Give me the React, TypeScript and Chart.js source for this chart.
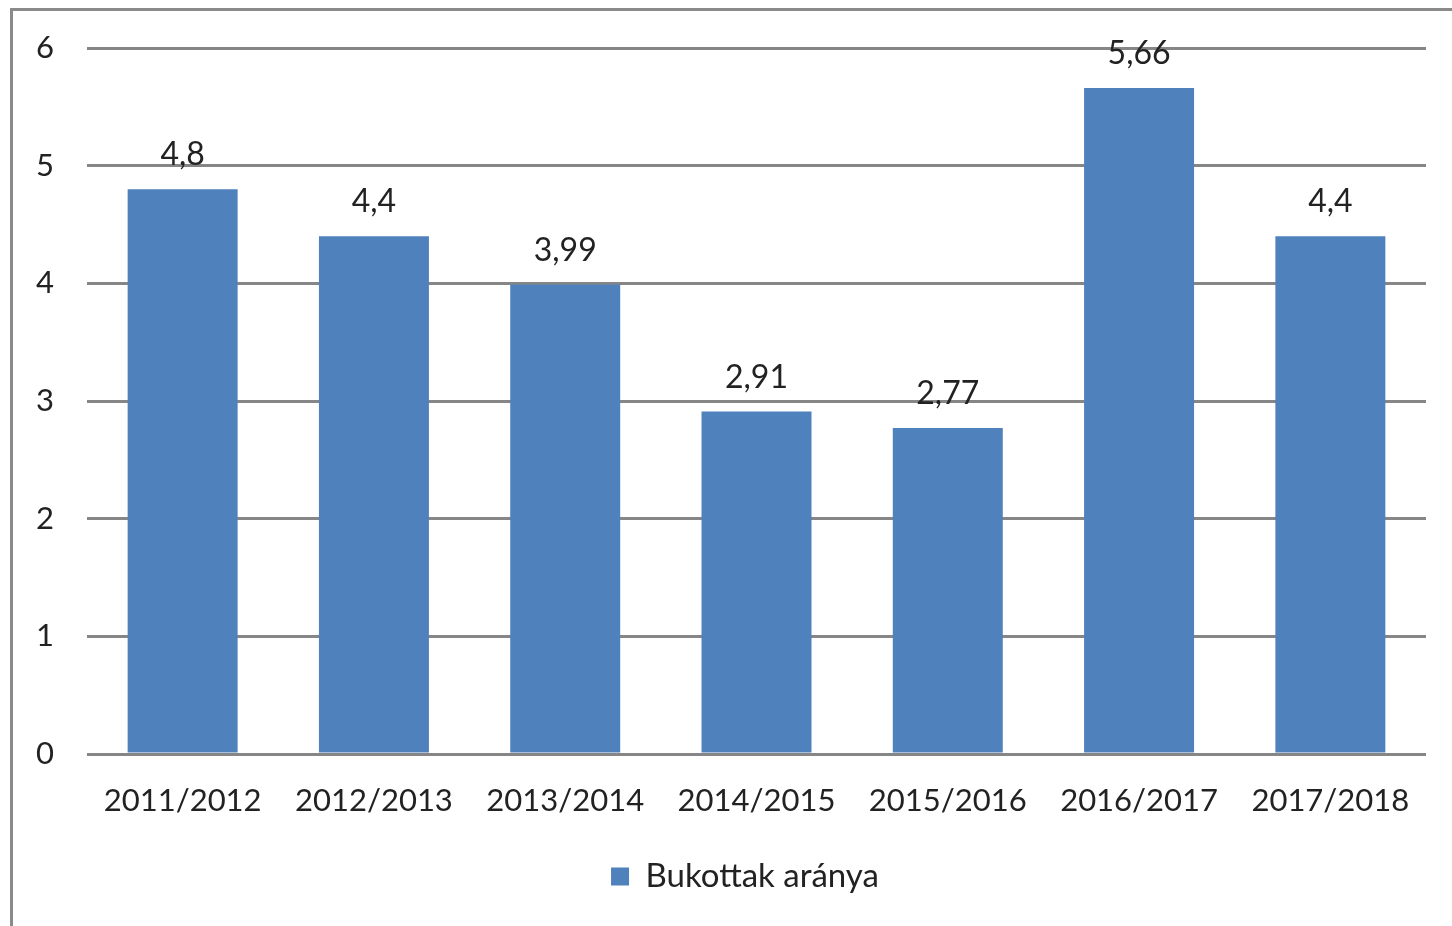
import React, { useEffect, useRef } from "react";
import { Chart, registerables } from "chart.js";

Chart.register(...registerables);

const categories = ["2011/2012", "2012/2013", "2013/2014", "2014/2015", "2015/2016", "2016/2017", "2017/2018"];
const values = [4.8, 4.4, 3.99, 2.91, 2.77, 5.66, 4.4];
const seriesName = "Bukottak aránya";
const yTicks = [0, 1, 2, 3, 4, 5, 6];

const FONT = "Lato, 'Open Sans', sans-serif";

const framePlugin = {
  id: "frame",
  beforeDraw(chart: any) {
    const ctx = chart.ctx;
    ctx.save();
    ctx.fillStyle = "#ffffff";
    ctx.fillRect(0, 0, chart.width, chart.height);
    ctx.strokeStyle = "#8a8a8a";
    ctx.lineWidth = 3;
    ctx.beginPath();
    ctx.moveTo(11.5, chart.height);
    ctx.lineTo(11.5, 9.5);
    ctx.lineTo(chart.width, 9.5);
    ctx.stroke();
    ctx.restore();
  },
};

const legendShiftPlugin = {
  id: "legendShift",
  afterLayout(chart: any) {
    const lg = chart.legend;
    if (lg) {
      lg.left += 32;
      lg.right += 32;
    }
  },
};

const labelPlugin = {
  id: "valueLabels",
  afterDatasetsDraw(chart: any) {
    const ctx = chart.ctx;
    const meta = chart.getDatasetMeta(0);
    ctx.save();
    ctx.font = `32px ${FONT}`;
    ctx.fillStyle = "#222222";
    ctx.textAlign = "center";
    ctx.textBaseline = "alphabetic";
    meta.data.forEach((bar: any, i: number) => {
      const txt = String(values[i]).replace(".", ",");
      ctx.fillText(txt, bar.x, bar.y - 24);
    });
    ctx.restore();
  },
};

export default function App() {
  const ref = useRef<HTMLCanvasElement>(null);
  useEffect(() => {
    if (!ref.current) return;
    const chart = new Chart(ref.current, {
      type: "bar",
      data: {
        labels: categories,
        datasets: [
          {
            label: seriesName,
            data: values,
            backgroundColor: "#4F81BD",
            borderWidth: 0,
            barPercentage: 0.575,
            categoryPercentage: 1,
          },
        ],
      },
      options: {
        animation: false,
        responsive: false,
        maintainAspectRatio: false,
        layout: { padding: { top: 48, right: 26, left: 0, bottom: 23 } },
        plugins: {
          legend: {
            position: "bottom",
            labels: {
              font: { family: FONT, size: 33 },
              color: "#222222",
              boxWidth: 18,
              boxHeight: 18,
              padding: 10,
            },
          },
          tooltip: { enabled: false },
        },
        scales: {
          x: {
            afterFit(scale: any) {
              scale.height = 96;
              scale.paddingLeft = 0;
              scale.paddingRight = 0;
            },
            grid: { display: false },
            border: { display: false },
            ticks: {
              font: { family: FONT, size: 31 },
              color: "#222222",
              padding: 20,
              maxRotation: 0,
              autoSkip: false,
            },
          },
          y: {
            min: 0,
            max: 6,
            afterFit(scale: any) {
              scale.width = 87;
              scale.paddingTop = 0;
              scale.paddingBottom = 0;
            },
            afterBuildTicks(scale: any) {
              scale.ticks = yTicks.map((v) => ({ value: v }));
            },
            grid: { color: "#868686", lineWidth: 3, drawTicks: false },
            border: { display: false },
            ticks: {
              font: { family: FONT, size: 31 },
              color: "#222222",
              padding: 33,
            },
          },
        },
      },
      plugins: [framePlugin, legendShiftPlugin, labelPlugin],
    });
    return () => chart.destroy();
  }, []);
  return (
    <div style={{ position: "absolute", left: 0, top: 0, width: 1452, height: 926 }}>
      <canvas ref={ref} width={1452} height={926} style={{ width: 1452, height: 926, display: "block" }} />
    </div>
  );
}
